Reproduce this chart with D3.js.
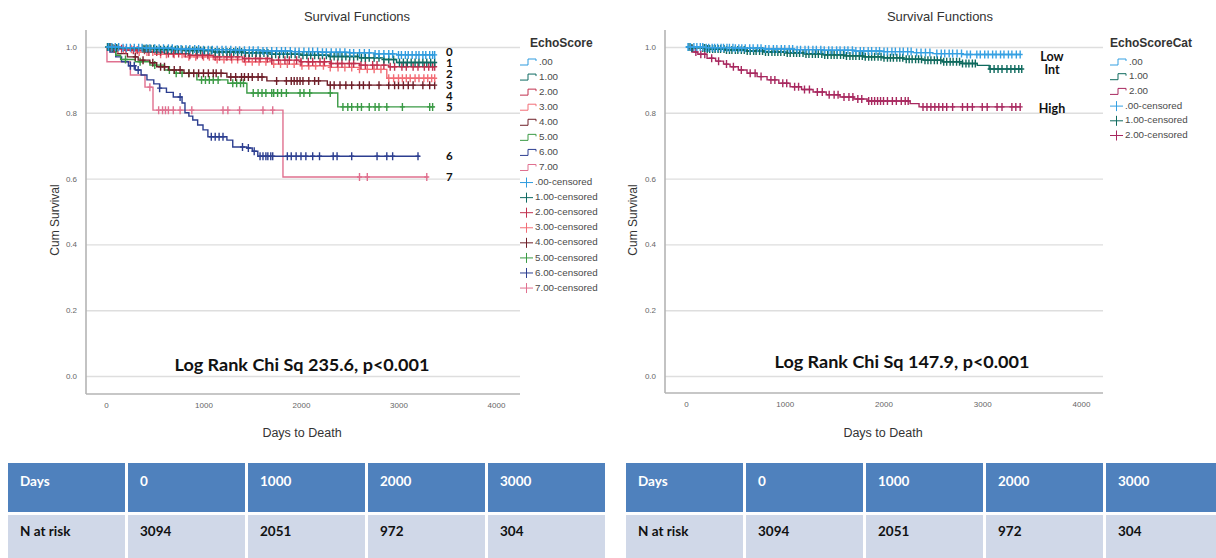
<!DOCTYPE html>
<html><head><meta charset="utf-8">
<script src="https://cdn.jsdelivr.net/npm/d3@7"></script>
<style>body{margin:0;background:#fff}svg{display:block}</style>
</head><body>
<svg id="c" width="1216" height="558"></svg>
<script>
// ---------- DATA ----------
const yTicks = [0, 0.2, 0.4, 0.6, 0.8, 1.0];
const xTicks = [0, 1000, 2000, 3000, 4000];

// Left panel: EchoScore 0..7  (step points [days, survival], censor days, end day)
const echoNames = [".00", "1.00", "2.00", "3.00", "4.00", "5.00", "6.00", "7.00"];
const echoLabels = ["0", "1", "2", "3", "4", "5", "6", "7"];
const steps0 = [[0,1],[150,0.998],[400,0.996],[700,0.994],[1000,0.992],[1300,0.99],[1600,0.988],[1900,0.986],[2200,0.984],[2500,0.982],[2750,0.979],[2980,0.976]];
const steps1 = [[0,1],[60,0.997],[250,0.995],[500,0.992],[800,0.989],[1100,0.985],[1400,0.982],[1700,0.978],[2000,0.975],[2300,0.971],[2600,0.967],[2850,0.962],[2980,0.953]];
const steps2 = [[0,1],[80,0.995],[200,0.99],[400,0.985],[600,0.98],[850,0.975],[1100,0.97],[1400,0.965],[1700,0.96],[2000,0.955],[2300,0.95],[2600,0.945],[2900,0.94]];
const steps3 = [[0,1],[100,0.993],[300,0.985],[500,0.978],[800,0.97],[1100,0.962],[1400,0.955],[1700,0.948],[2000,0.943],[2300,0.938],[2600,0.932],[2880,0.905]];
const steps4 = [[0,1],[40,0.99],[120,0.98],[220,0.97],[330,0.96],[450,0.952],[520,0.94],[640,0.93],[800,0.92],[1240,0.909],[1650,0.897],[2270,0.884]];
const steps5 = [[0,1],[30,0.99],[100,0.975],[150,0.962],[300,0.955],[450,0.945],[600,0.93],[700,0.92],[932,0.90],[1250,0.89],[1445,0.86],[2377,0.818]];
const steps6 = [[0,1],[40,0.985],[100,0.97],[160,0.955],[230,0.943],[300,0.93],[360,0.915],[420,0.90],[490,0.888],[550,0.875],[620,0.862],[690,0.848],[780,0.83],[810,0.80],[850,0.79],[890,0.778],[940,0.763],[995,0.748],[1045,0.727],[1240,0.717],[1300,0.696],[1445,0.693],[1500,0.683],[1557,0.668]];
const steps7 = [[0,1],[10,0.955],[250,0.915],[400,0.878],[482,0.808],[1815,0.605]];
const end0 = 3371, end1 = 3371, end2 = 3371, end3 = 3371, end4 = 3371, end5 = 3371, end6 = 3217, end7 = 3300;
const cens0 = [25,60,95,130,175,210,250,290,335,370,415,450,500,545,590,640,680,730,770,820,860,910,950,1000,1050,1090,1140,1190,1230,1280,1330,1370,1420,1470,1510,1560,1610,1650,1700,1750,1800,1840,1890,1940,1980,2030,2080,2120,2170,2220,2260,2310,2360,2400,2450,2500,2540,2600,2650,2700,2760,2800,2850,2900,2940,3000,3030,3070,3100,3140,3180,3210,3250,3280,3320,3350,3371];
const cens1 = [15,40,70,110,380,400,430,460,490,520,560,600,630,670,710,740,780,820,850,890,930,970,1010,1050,1080,1120,1160,1200,1240,1270,1310,1350,1390,1430,1470,1500,1540,1580,1620,1660,1700,1740,1780,1820,1860,1900,1940,1980,2020,2060,2100,2140,2180,2220,2260,2300,2340,2380,2420,2460,2500,2540,2580,2620,2660,2700,2750,2800,2850,2900,2950,3010,3050,3090,3130,3170,3210,3250,3290,3330,3371];
const cens2 = [30,85,160,205,280,320,395,440,520,560,640,690,745,815,860,935,990,1045,1120,1165,1240,1285,1350,1420,1465,1535,1580,1655,1700,1770,1835,1880,1955,2000,2075,2120,2195,2240,2310,2375,2420,2495,2540,2615,2660,2735,2780,2850,2915,2960,3035,3080,3150,3200,3265,3310,3350,3371];
const cens3 = [50,120,180,260,340,420,480,560,620,700,780,850,920,1000,1060,1140,1210,1290,1350,1430,1500,1570,1640,1720,1790,1860,1930,2010,2080,2150,2230,2300,2380,2450,2520,2600,2680,2750,2820,2900,2950,3000,3040,3080,3120,3170,3210,3260,3300,3340,3371];
const cens4 = [300,380,480,560,600,700,760,850,900,950,1000,1050,1100,1130,1180,1280,1330,1390,1420,1460,1500,1560,1600,1750,1850,1900,1930,1960,1990,2020,2080,2140,2180,2300,2340,2400,2460,2520,2600,2640,2700,2800,2900,2960,3000,3050,3100,3150,3250,3320,3371];
const cens5 = [200,350,500,650,720,780,850,980,1020,1060,1100,1150,1300,1340,1380,1410,1510,1560,1600,1640,1700,1720,1760,1800,1850,1990,2030,2090,2300,2430,2480,2520,2580,2620,2700,2760,2800,2880,3040,3320,3350];
const cens6 = [250,290,330,550,760,1080,1120,1160,1200,1400,1460,1520,1580,1610,1640,1660,1690,1710,1860,1900,1950,2000,2050,2120,2190,2330,2370,2520,2780,2880,2940,3200];
const cens7 = [450,540,580,610,640,690,760,880,1200,1250,1370,1610,1710,2600,2680,3290];

// Right panel: EchoScoreCat
const catNames = [".00", "1.00", "2.00"];
const catLabels = ["Low", "Int", "High"];
const stepsLow = [[0,1],[200,0.998],[500,0.996],[800,0.994],[1100,0.992],[1400,0.99],[1700,0.988],[2000,0.986],[2300,0.983],[2500,0.98],[2800,0.977]];
const stepsInt = [[0,1],[50,0.997],[200,0.994],[400,0.991],[600,0.988],[800,0.985],[1000,0.982],[1200,0.979],[1400,0.976],[1600,0.973],[1800,0.97],[2000,0.967],[2200,0.963],[2400,0.96],[2600,0.955],[2800,0.95],[2950,0.944],[3070,0.933]];
const stepsHigh = [[0,1],[30,0.995],[70,0.985],[120,0.978],[213,0.966],[300,0.957],[380,0.948],[446,0.94],[530,0.93],[618,0.92],[720,0.91],[821,0.90],[940,0.89],[1054,0.879],[1170,0.871],[1287,0.863],[1420,0.855],[1560,0.848],[1700,0.842],[1834,0.836],[2270,0.828],[2360,0.818]];
const endLow = 3384, endInt = 3400, endHigh = 3384;
const censLow = [20,45,80,110,145,170,205,230,265,290,320,355,380,415,440,475,500,535,565,600,645,680,725,760,805,840,885,920,965,1000,1045,1080,1125,1160,1205,1240,1285,1320,1365,1400,1445,1480,1525,1560,1605,1640,1685,1720,1765,1800,1845,1880,1925,1960,2005,2040,2085,2120,2165,2200,2245,2280,2335,2380,2425,2470,2540,2585,2620,2665,2700,2745,2790,2845,2880,2945,2980,3025,3060,3105,3140,3185,3220,3265,3300,3345,3384];
const censInt = [30,60,170,190,215,240,270,295,325,350,385,410,440,465,500,525,560,590,620,650,685,710,745,775,805,835,870,900,930,960,995,1025,1055,1090,1120,1150,1185,1215,1245,1280,1310,1340,1375,1405,1435,1470,1500,1530,1565,1595,1625,1660,1690,1720,1755,1785,1815,1850,1880,1910,1945,1975,2005,2040,2070,2100,2135,2165,2195,2230,2260,2290,2325,2355,2385,2420,2450,2480,2515,2545,2580,2610,2640,2675,2705,2740,2770,2800,2835,2865,2900,2930,3080,3120,3160,3200,3250,3290,3330,3370,3400];
const censHigh = [60,100,150,190,260,330,410,480,560,650,700,760,860,900,980,1020,1100,1140,1200,1250,1330,1380,1450,1500,1540,1600,1650,1690,1740,1780,1850,1880,1910,1940,1970,2000,2040,2090,2130,2180,2220,2250,2400,2440,2480,2520,2560,2600,2640,2700,2800,2850,2900,3000,3050,3150,3200,3300,3340,3384];

// Risk tables
const tableDays = ["Days", "0", "1000", "2000", "3000"];
const tableRisk = ["N at risk", "3094", "2051", "972", "304"];

// ---------- STYLE ----------
const echoColors = ["#2E9BDE", "#0F6A62", "#C0304E", "#F26D76", "#6E1E28", "#3A9A45", "#2C3E90", "#E0708F"];
const catColors = ["#35A0E2", "#0F6A5E", "#A8285F"];
const labelFont = "Lato, 'Open Sans', sans-serif";
const chartFont = "'Liberation Sans', Arial, sans-serif";

const svg = d3.select("#c");

function survAt(steps, t) {
  let s = 1;
  for (const [tt, ss] of steps) if (tt <= t) s = ss;
  return s;
}

function drawPanel(p) {
  const x = d3.scaleLinear().domain([0, 4000]).range(p.xRange);
  const y = d3.scaleLinear().domain([0, 1]).range([376, 47]);
  const g = svg.append("g");

  const grid = g.append("g").attr("transform", `translate(${p.axisX},0)`)
    .call(d3.axisLeft(y).tickValues(yTicks).tickSize(-(p.gridRight - p.axisX)).tickFormat(""));
  grid.select(".domain").remove();
  grid.selectAll("line").attr("stroke", "#dedede").attr("stroke-width", 1.4);

  g.append("line").attr("x1", p.axisX).attr("x2", p.axisX).attr("y1", 30).attr("y2", p.baseY)
    .attr("stroke", "#b4b4b4").attr("stroke-width", 1.6);
  g.append("line").attr("x1", p.axisX).attr("x2", p.gridRight).attr("y1", p.baseY).attr("y2", p.baseY)
    .attr("stroke", "#b4b4b4").attr("stroke-width", 1.6);

  const ya = g.append("g").attr("transform", `translate(${p.axisX},0)`)
    .call(d3.axisLeft(y).tickValues(yTicks).tickSize(0).tickPadding(9).tickFormat(d3.format(".1f")));
  ya.select(".domain").remove();
  ya.selectAll("text").attr("font-family", chartFont).attr("font-size", 8).attr("fill", "#666");
  const xa = g.append("g").attr("transform", `translate(0,${p.baseY})`)
    .call(d3.axisBottom(x).tickValues(xTicks).tickSize(0).tickPadding(8).tickFormat(d3.format("d")));
  xa.select(".domain").remove();
  xa.selectAll("text").attr("font-family", chartFont).attr("font-size", 8).attr("fill", "#666");

  g.append("text").attr("x", p.titleX).attr("y", 21).attr("text-anchor", "middle")
    .attr("font-family", chartFont).attr("font-size", 13).attr("fill", "#333").text("Survival Functions");
  g.append("text").attr("transform", `translate(${p.yLabX},220) rotate(-90)`).attr("text-anchor", "middle")
    .attr("font-family", chartFont).attr("font-size", 12).attr("fill", "#333").text("Cum Survival");
  g.append("text").attr("x", p.xLabX).attr("y", 437).attr("text-anchor", "middle")
    .attr("font-family", chartFont).attr("font-size", 12.5).attr("fill", "#333").text("Days to Death");

  const line = d3.line().x(d => x(d[0])).y(d => y(d[1])).curve(d3.curveStepAfter);
  const order = d3.range(p.series.length).reverse();
  order.forEach(i => {
    const s = p.series[i];
    const pts = s.steps.concat([[s.end, s.steps[s.steps.length - 1][1]]]);
    g.append("path").attr("d", line(pts)).attr("fill", "none").attr("stroke", s.color).attr("stroke-width", 1.4);
    g.append("g").selectAll("path").data(s.cens).join("path")
      .attr("d", t => { const cx = x(t), cy = y(survAt(s.steps, t)); return `M${cx},${cy - 4}V${cy + 4}M${cx - 2.5},${cy}H${cx + 2.5}`; })
      .attr("stroke", s.color).attr("stroke-width", 1.4).attr("fill", "none");
  });

  g.selectAll(".lab").data(p.labels).join("text")
    .attr("x", p.labX).attr("y", (d, i) => p.labY[i]).attr("text-anchor", p.labAnchor)
    .attr("dominant-baseline", "middle")
    .attr("font-family", labelFont).attr("font-weight", 700).attr("font-size", p.labSize).attr("fill", "#111").text(d => d);

  g.append("text").attr("x", p.lrX).attr("y", p.lrY).attr("text-anchor", "middle")
    .attr("font-family", labelFont).attr("font-weight", 700).attr("font-size", 17).attr("fill", "#111")
    .attr("textLength", 255).attr("lengthAdjust", "spacingAndGlyphs").text(p.lrText);

  const lg = g.append("g");
  lg.append("text").attr("x", p.legX + p.legTitleDx).attr("y", 47).attr("font-family", chartFont).attr("font-weight", 700)
    .attr("font-size", 12).attr("fill", "#333").text(p.legTitle);
  const items = [];
  p.series.forEach(s => items.push({ name: s.name, color: s.color, type: "step" }));
  p.series.forEach(s => items.push({ name: s.name + "-censored", color: s.color, type: "cens" }));
  const it = lg.selectAll(".it").data(items).join("g")
    .attr("transform", (d, i) => `translate(${p.legX},${62 + i * p.legStep})`);
  it.append("path").attr("d", d => d.type === "step" ? "M0,3H8V-3H16V-1" : "M0,0H13M6.5,-5V5")
    .attr("stroke", d => d.color).attr("stroke-width", 1).attr("fill", "none");
  it.append("text").attr("x", d => d.type === "step" ? 19 : 15).attr("y", 0).attr("dominant-baseline", "middle")
    .attr("font-family", chartFont).attr("font-size", 9.8).attr("fill", "#4a4a4a").text(d => d.name);
}

drawPanel({
  xRange: [106, 496], axisX: 86, baseY: 394, gridRight: 520,
  titleX: 357, yLabX: 59, xLabX: 302,
  series: [
    { name: echoNames[0], color: echoColors[0], steps: steps0, cens: cens0, end: end0 },
    { name: echoNames[1], color: echoColors[1], steps: steps1, cens: cens1, end: end1 },
    { name: echoNames[2], color: echoColors[2], steps: steps2, cens: cens2, end: end2 },
    { name: echoNames[3], color: echoColors[3], steps: steps3, cens: cens3, end: end3 },
    { name: echoNames[4], color: echoColors[4], steps: steps4, cens: cens4, end: end4 },
    { name: echoNames[5], color: echoColors[5], steps: steps5, cens: cens5, end: end5 },
    { name: echoNames[6], color: echoColors[6], steps: steps6, cens: cens6, end: end6 },
    { name: echoNames[7], color: echoColors[7], steps: steps7, cens: cens7, end: end7 }
  ],
  labels: echoLabels, labX: 446, labY: [53, 64, 75, 86, 97, 108, 157, 178], labAnchor: "start", labSize: 11.5,
  lrX: 302, lrY: 371, lrText: "Log Rank Chi Sq 235.6, p<0.001",
  legX: 520, legTitleDx: 10, legTitle: "EchoScore", legStep: 15.07
});

drawPanel({
  xRange: [686, 1081], axisX: 665, baseY: 393, gridRight: 1103,
  titleX: 940, yLabX: 637, xLabX: 883,
  series: [
    { name: catNames[0], color: catColors[0], steps: stepsLow, cens: censLow, end: endLow },
    { name: catNames[1], color: catColors[1], steps: stepsInt, cens: censInt, end: endInt },
    { name: catNames[2], color: catColors[2], steps: stepsHigh, cens: censHigh, end: endHigh }
  ],
  labels: catLabels, labX: 1052, labY: [58, 71, 110], labAnchor: "middle", labSize: 12.5,
  lrX: 902, lrY: 368, lrText: "Log Rank Chi Sq 147.9, p<0.001",
  legX: 1110, legTitleDx: 0, legTitle: "EchoScoreCat", legStep: 14.7
});

function drawTable(x0) {
  const colW = 117, gap = 3;
  const cx = d3.scaleLinear().domain([0, 1]).range([x0, x0 + colW + gap]);
  const t = svg.append("g");
  t.selectAll(".h").data(tableDays).join("rect")
    .attr("x", (d, i) => cx(i)).attr("y", 463).attr("width", colW).attr("height", 49).attr("fill", "#4F81BD");
  t.selectAll(".r").data(tableRisk).join("rect")
    .attr("x", (d, i) => cx(i)).attr("y", 515).attr("width", colW).attr("height", 45).attr("fill", "#D0D8E8");
  t.selectAll(".ht").data(tableDays).join("text")
    .attr("x", (d, i) => cx(i) + 12).attr("y", 486).attr("font-family", labelFont).attr("font-weight", 700)
    .attr("font-size", 13.5).attr("fill", "#fff").text(d => d);
  t.selectAll(".rt").data(tableRisk).join("text")
    .attr("x", (d, i) => cx(i) + 12).attr("y", 536).attr("font-family", labelFont).attr("font-weight", 700)
    .attr("font-size", 13.5).attr("fill", "#111").text(d => d);
}
drawTable(8);
drawTable(626);
</script>
</body></html>
